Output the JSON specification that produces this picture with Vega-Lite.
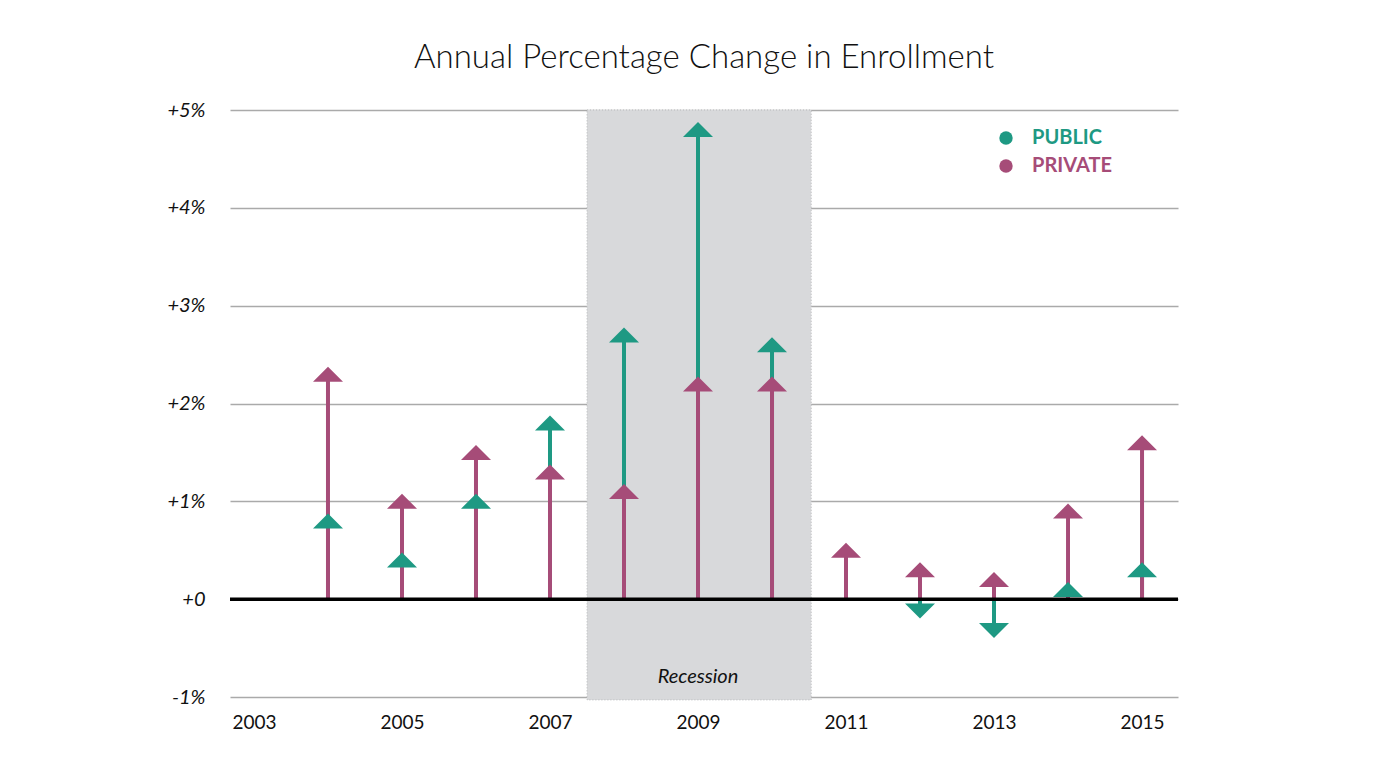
{
  "$schema": "https://vega.github.io/schema/vega-lite/v6.json",
  "autosize": "none",
  "width": 948,
  "height": 587,
  "padding": {"left": 230, "top": 110, "right": 222, "bottom": 72},
  "background": "white",
  "title": {
    "text": "Annual Percentage Change in Enrollment",
    "font": "Lato",
    "fontSize": 33,
    "fontWeight": 300,
    "color": "#111",
    "anchor": "middle",
    "offset": 25
  },
  "config": {
    "view": {"stroke": null},
    "font": "Lato"
  },
  "datasets": {
    "enroll": [
      {"year": 2004, "type": "PUBLIC", "value": 0.8},
      {"year": 2004, "type": "PRIVATE", "value": 2.3},
      {"year": 2005, "type": "PUBLIC", "value": 0.4},
      {"year": 2005, "type": "PRIVATE", "value": 1.0},
      {"year": 2006, "type": "PUBLIC", "value": 1.0},
      {"year": 2006, "type": "PRIVATE", "value": 1.5},
      {"year": 2007, "type": "PUBLIC", "value": 1.8},
      {"year": 2007, "type": "PRIVATE", "value": 1.3},
      {"year": 2008, "type": "PUBLIC", "value": 2.7},
      {"year": 2008, "type": "PRIVATE", "value": 1.1},
      {"year": 2009, "type": "PUBLIC", "value": 4.8},
      {"year": 2009, "type": "PRIVATE", "value": 2.2},
      {"year": 2010, "type": "PUBLIC", "value": 2.6},
      {"year": 2010, "type": "PRIVATE", "value": 2.2},
      {"year": 2011, "type": "PRIVATE", "value": 0.5},
      {"year": 2012, "type": "PUBLIC", "value": -0.12},
      {"year": 2012, "type": "PRIVATE", "value": 0.3},
      {"year": 2013, "type": "PUBLIC", "value": -0.32},
      {"year": 2013, "type": "PRIVATE", "value": 0.2},
      {"year": 2014, "type": "PUBLIC", "value": 0.1},
      {"year": 2014, "type": "PRIVATE", "value": 0.9},
      {"year": 2015, "type": "PUBLIC", "value": 0.3},
      {"year": 2015, "type": "PRIVATE", "value": 1.6}
    ],
    "recession": [
      {"start": 2007.5, "end": 2010.53, "mid": 2009, "top": 5, "bottom": -1.03, "labelY": -0.8, "label": "Recession"}
    ]
  },
  "layer": [
    {
      "data": {"name": "recession"},
      "mark": {"type": "rect", "fill": "#d8d9db", "stroke": "#b8b9bb", "strokeWidth": 1, "strokeDash": [1, 2]},
      "encoding": {
        "x": {"field": "start", "type": "quantitative", "scale": {"domain": [2002.676, 2015.486], "nice": false, "zero": false},
          "axis": {"values": [2003, 2005, 2007, 2009, 2011, 2013, 2015], "format": "d", "grid": false, "domain": false, "ticks": false, "labelFont": "Lato", "labelFontSize": 19, "labelColor": "#111", "labelPadding": 16, "title": null}},
        "x2": {"field": "end"},
        "y": {"field": "top", "type": "quantitative", "scale": {"domain": [-1, 5], "nice": false},
          "axis": {"values": [-1, 0, 1, 2, 3, 4, 5], "grid": true, "gridColor": "#aaaaaa", "gridWidth": 1.5, "domain": false, "ticks": false, "labelFont": "Lato", "labelFontStyle": "italic", "labelFontSize": 20, "labelColor": "#111", "labelPadding": 25, "title": null,
            "labelExpr": "datum.value > 0 ? '+' + datum.value + '%' : (datum.value == 0 ? '+0' : datum.value + '%')"}},
        "y2": {"field": "bottom"}
      }
    },
    {
      "data": {"name": "recession"},
      "mark": {"type": "text", "font": "Lato", "fontStyle": "italic", "fontSize": 20, "color": "#111", "baseline": "middle", "align": "center"},
      "encoding": {
        "x": {"field": "mid", "type": "quantitative"},
        "y": {"field": "labelY", "type": "quantitative"},
        "text": {"field": "label"}
      }
    },
    {
      "data": {"name": "enroll"},
      "transform": [{"filter": "datum.type == 'PUBLIC'"}],
      "mark": {"type": "rule", "color": "#1e9983", "strokeWidth": 4},
      "encoding": {
        "x": {"field": "year", "type": "quantitative"},
        "y": {"field": "value", "type": "quantitative"},
        "y2": {"datum": 0}
      }
    },
    {
      "data": {"name": "enroll"},
      "transform": [{"filter": "datum.type == 'PRIVATE'"}],
      "mark": {"type": "rule", "color": "#a64c78", "strokeWidth": 4},
      "encoding": {
        "x": {"field": "year", "type": "quantitative"},
        "y": {"field": "value", "type": "quantitative"},
        "y2": {"datum": 0}
      }
    },
    {
      "data": {"name": "recession"},
      "mark": {"type": "rule", "color": "#000", "strokeWidth": 3.5},
      "encoding": {
        "y": {"datum": 0, "type": "quantitative"}
      }
    },
    {
      "data": {"name": "enroll"},
      "mark": {"type": "point", "filled": true, "opacity": 1, "size": 900, "strokeWidth": 0},
      "encoding": {
        "x": {"field": "year", "type": "quantitative"},
        "y": {"field": "value", "type": "quantitative"},
        "shape": {"condition": {"test": "datum.value < 0", "value": "M-1,-0.5L0,0.5L1,-0.5Z"}, "value": "M-1,0.5L0,-0.5L1,0.5Z"},
        "color": {"field": "type", "type": "nominal",
          "scale": {"domain": ["PUBLIC", "PRIVATE"], "range": ["#1e9983", "#a64c78"]},
          "legend": {"orient": "none", "legendX": 766, "legendY": 18, "title": null, "symbolType": "circle", "symbolSize": 180, "symbolStrokeWidth": 0, "labelFont": "Lato", "labelFontWeight": "bold", "labelFontSize": 20, "labelOffset": 16, "rowPadding": 8,
            "labelColor": {"expr": "datum.value == 'PUBLIC' ? '#1e9983' : '#a64c78'"}}}
      }
    }
  ]
}
